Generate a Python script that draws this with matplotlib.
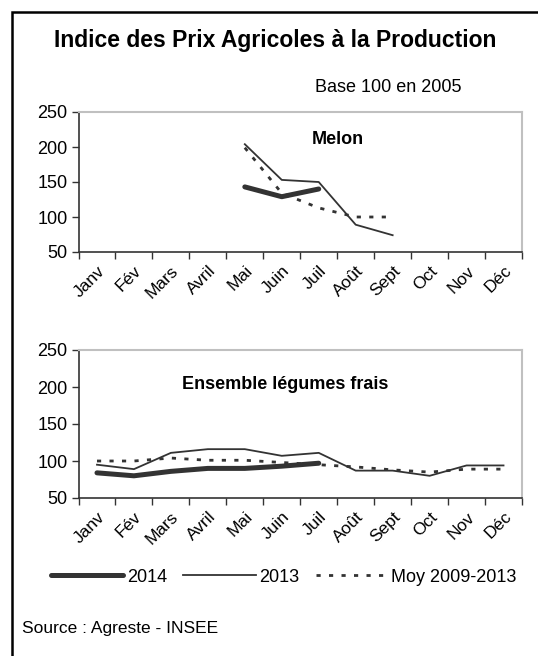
import matplotlib.pyplot as plt
import numpy as np
from matplotlib.patches import Rectangle

plt.rcParams['font.family'] = ['Liberation Sans', 'DejaVu Sans']

nan = np.nan
mois = ['Janv', 'Fév', 'Mars', 'Avril', 'Mai', 'Juin', 'Juil', 'Août', 'Sept', 'Oct', 'Nov', 'Déc']

# Melon
melon_2014 = [nan, nan, nan, nan, 143, 129, 140, nan, nan, nan, nan, nan]
melon_2013 = [nan, nan, nan, nan, 204, 153, 150, 89, 74, nan, nan, nan]
melon_moy = [nan, nan, nan, nan, 199, 134, 113, 100, 100, nan, nan, nan]

# Ensemble légumes frais
leg_2014 = [84, 80, 86, 90, 90, 93, 97, nan, nan, nan, nan, nan]
leg_2013 = [95, 89, 111, 116, 116, 107, 111, 87, 87, 80, 94, 94]
leg_moy = [100, 100, 104, 101, 101, 98, 95, 92, 88, 85, 89, 89]

W, H = 538, 656
fig = plt.figure(figsize=(W / 100, H / 100), dpi=100)
fig.patch.set_facecolor('white')

# cadre extérieur
fig.patches.append(Rectangle((12 / W, -0.05), 1.2, 1 - 12 / H + 0.05,
                             transform=fig.transFigure, fill=False,
                             edgecolor='black', linewidth=1.8))

fonce = '#333333'
x = np.arange(12)
pointille = (0, (1.5, 3.0))


def panneau(rect, s14, s13, smoy, titre, tx, ty):
    ax = fig.add_axes(rect)
    ax.plot(x, smoy, color=fonce, lw=2.0, linestyle=pointille)
    ax.plot(x, s13, color=fonce, lw=1.3)
    ax.plot(x, s14, color=fonce, lw=3.6, solid_capstyle='round')
    ax.set_xlim(-0.5, 11.5)
    ax.set_ylim(50, 250)
    ax.set_yticks([50, 100, 150, 200, 250])
    ax.set_xticks(np.arange(-0.5, 12, 1))
    ax.set_xticklabels([])
    ax.set_xticks(x, minor=True)
    ax.set_xticklabels(mois, minor=True, rotation=45, ha='right',
                       rotation_mode='anchor', fontsize=12.5)
    ax.tick_params(axis='x', which='minor', length=0, pad=8)
    ax.tick_params(axis='x', which='major', length=5, width=1, color=fonce, direction='out')
    ax.tick_params(axis='y', length=5, width=1, color=fonce, labelsize=13, pad=3)
    for s in ['top', 'right']:
        ax.spines[s].set_color('#c0c0c0')
        ax.spines[s].set_linewidth(1.5)
    for s in ['left', 'bottom']:
        ax.spines[s].set_color(fonce)
        ax.spines[s].set_linewidth(1.2)
    ax.text(tx, ty, titre, transform=ax.transAxes, ha='center', va='center',
            fontsize=13, fontweight='bold')
    return ax


ax1 = panneau([78.5 / W, 1 - 252 / H, 443.5 / W, 140 / H],
              melon_2014, melon_2013, melon_moy, 'Melon', 0.585, 0.80)
ax2 = panneau([78.5 / W, 1 - 498 / H, 443.5 / W, 148 / H],
              leg_2014, leg_2013, leg_moy, 'Ensemble légumes frais', 0.465, 0.77)

fig.text(275 / W, 1 - 40 / H, 'Indice des Prix Agricoles à la Production',
         ha='center', va='center', fontsize=16.5, fontweight='bold')
fig.text(388 / W, 1 - 87 / H, 'Base 100 en 2005', ha='center', va='center', fontsize=13)
fig.text(22 / W, 1 - 628 / H, 'Source : Agreste - INSEE', ha='left', va='center', fontsize=12.5)

h14, = ax2.plot([], [], color=fonce, lw=3.6, solid_capstyle='round')
h13, = ax2.plot([], [], color=fonce, lw=1.3)
hmoy, = ax2.plot([], [], color=fonce, lw=2.0, linestyle=pointille)
fig.legend([h14, h13, hmoy], ['2014', '2013', 'Moy 2009-2013'],
           loc='center', bbox_to_anchor=(284 / W, 1 - 577 / H), ncol=3,
           frameon=False, fontsize=13, handlelength=4.0, handletextpad=0.2,
           columnspacing=0.9)

fig.savefig('out.png', dpi=100, facecolor='white')
